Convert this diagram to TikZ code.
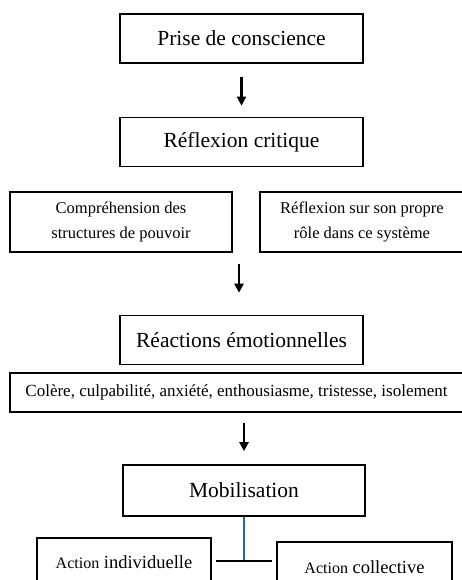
\documentclass[tikz,border=0pt]{standalone}
\usepackage{fontspec}
\setmainfont{Liberation Serif}
\usetikzlibrary{arrows.meta}
\definecolor{linkcolor}{HTML}{1F6C8C}

\begin{document}
\begin{tikzpicture}[
    x=1pt, y=-1pt,
    box/.style={rectangle, draw, line width=1.6pt, inner sep=0pt,
                align=center, text=black},
    bigbox/.style={box, minimum width=243pt, minimum height=49pt,
                   font=\fontsize{21.5}{24}\selectfont},
    smallbox/.style={box, minimum height=60pt,
                     font=\fontsize{16.5}{25}\selectfont},
    flow/.style={-{Triangle[length=9pt, width=9pt]}, line width=2.2pt}
]
\useasboundingbox (0,0) rectangle (462,580);
\node[bigbox] (prise) at (241.5,38.5) {Prise de conscience};
\node[bigbox] (reflexion) at (241.5,142) {Réflexion critique};
\node[smallbox, minimum width=222pt] (compr) at (121,222)
    {Compréhension des\\structures de pouvoir};
\node[smallbox, minimum width=204pt] (role) at (362,222)
    {Réflexion sur son propre\\rôle dans ce système};
\node[bigbox] (reactions) at (241.5,340) {Réactions émotionnelles};
\node[box, minimum width=453pt, minimum height=39pt,
      font=\fontsize{17}{20}\selectfont] (emotions) at (236.5,392.5)
    {Colère, culpabilité, anxiété, enthousiasme, tristesse, isolement};
\node[bigbox, minimum width=242pt, minimum height=51pt] (mobil) at (244,490.5)
    {Mobilisation};
\node[box, minimum width=174pt, minimum height=48pt,
      font=\fontsize{18.5}{22}\selectfont] (indiv) at (124,562)
    {{\fontsize{16}{20}\selectfont Action} individuelle};
\node[box, minimum width=175pt, minimum height=50pt,
      font=\fontsize{18.5}{22}\selectfont] (collect) at (364.5,567)
    {{\fontsize{16}{20}\selectfont Action} collective};
\coordinate (joint) at (244,561);
% fleches
\draw[flow, shorten <=13pt, shorten >=11pt] (prise) -- (reflexion);
\draw[flow, shorten <=11pt, shorten >=22pt] ([xshift=-2.5pt]reactions.north |- compr.south) -- ([xshift=-2.5pt]reactions.north);
\draw[flow, shorten <=10pt, shorten >=13pt] (mobil.north |- emotions.south) -- (mobil.north);
% branches
\draw[linkcolor, line width=1.6pt] (mobil.south) -- (joint);
\draw[line width=2pt, shorten <=4pt, shorten >=4pt] (indiv.east |- joint) -- (collect.west |- joint);
\end{tikzpicture}
\end{document}
